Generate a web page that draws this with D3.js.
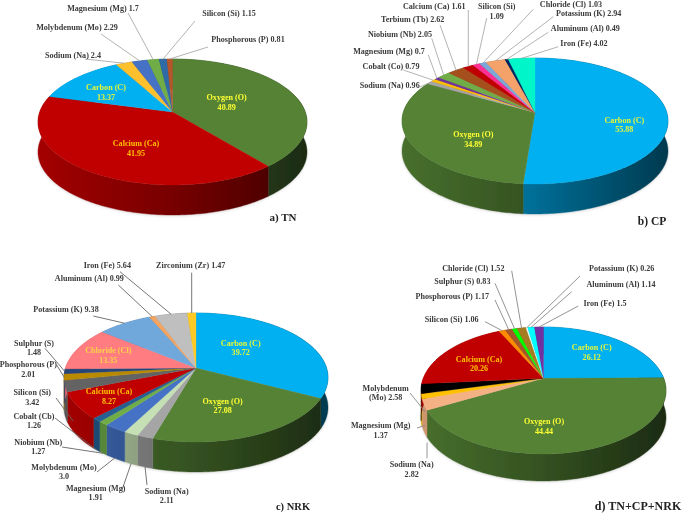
<!DOCTYPE html>
<html><head><meta charset="utf-8">
<script src="https://cdn.jsdelivr.net/npm/d3@7"></script>
<style>html,body{margin:0;padding:0;background:#fff;overflow:hidden}svg{display:block}
text{font-family:"Liberation Serif","Times New Roman",serif;font-weight:bold;font-size:8.1px;fill:#3a3a3a}</style>
</head><body><svg id="c" width="685" height="513"></svg>
<script>
// ---- data: values and label text ----
const tnValues  = [40.89,41.95,13.37,2.4,2.29,1.7,1.15,0.81];
const tnLabels  = [["Oxygen (O)","40.89"],["Calcium (Ca)","41.95"],["Carbon (C)","13.37"],["Sodium (Na) 2.4"],["Molybdenum (Mo) 2.29"],["Magnesium (Mg) 1.7"],["Silicon (Si) 1.15"],["Phosphorous (P)  0.81"]];
const tnColors  = ["#548235","#c00000","#00b0f0","#ffc02e","#4472c4","#70ad47","#2f6aa5","#b5562a"];

const cpValues  = [55.88,34.89,0.96,0.79,0.7,2.05,2.62,1.61,1.09,1.03,2.94,0.49,4.02];
const cpLabels  = [["Carbon (C)","55.88"],["Oxygen (O)","34.89"],["Sodium (Na) 0.96"],["Cobalt (Co) 0.79"],["Magnesium (Mg) 0.7"],["Niobium (Nb) 2.05"],["Terbium (Tb) 2.62"],["Calcium  (Ca) 1.61"],["Silicon (Si)","1.09"],["Chloride (Cl) 1.03"],["Potassium (K) 2.94"],["Aluminum (Al) 0.49"],["Iron (Fe) 4.02"]];
const cpColors  = ["#00b0f0","#548235","#a5a5a5","#ffc000","#7030a0","#70ad47","#a5501f","#c00000","#ff2f92","#7ba7d8","#f4a26b","#002060","#00f5c8"];

const nrkValues = [39.72,27.08,2.11,1.91,3.0,1.27,1.26,8.27,3.42,2.01,1.48,13.35,9.38,0.99,5.64,1.47];
const nrkLabels = [["Carbon (C)","39.72"],["Oxygen (O)","27.08"],["Sodium (Na)","2.11"],["Magnesium (Mg)","1.91"],["Molybdenum (Mo)","3.0"],["Niobium (Nb)","1.27"],["Cobalt (Cb)","1.26"],["Calcium (Ca)","8.27"],["Silicon (Si)","3.42"],["Phosphorous (P)","2.01"],["Sulphur (S)","1.48"],["Chloride (Cl)","13.35"],["Potassium (K) 9.38"],["Aluminum (Al) 0.99"],["Iron (Fe) 5.64"],["Zirconium (Zr) 1.47"]];
const nrkColors = ["#00b0f0","#548235","#a5a5a5","#c5e0b4","#4472c4","#70ad47","#255e91","#c00000","#636363","#b98a00","#264478","#ff7c80","#6fa8dc","#f4a460","#bfbfbf","#ffca28"];

const mixValues = [26.12,44.44,2.82,1.37,2.58,20.26,1.06,1.17,0.83,1.52,0.26,1.14,1.5];
const mixLabels = [["Carbon (C)","26.12"],["Oxygen (O)","44.44"],["Sodium (Na)","2.82"],["Magnesium (Mg)","1.37"],["Molybdenum","(Mo) 2.58"],["Calcium (Ca)","20.26"],["Silicon (Si) 1.06"],["Phosphorous (P) 1.17"],["Sulphur (S) 0.83"],["Chloride (Cl) 1.52"],["Potassium (K) 0.26"],["Aluminum (Al) 1.14"],["Iron (Fe) 1.5"]];
const mixColors = ["#00b0f0","#548235","#f4b183","#ffc000","#000000","#c00000","#ff8c00","#a5562a","#00ff00","#a57c20","#ffffff","#00ffff","#7030a0"];

// ---- layout: pie geometry and label placement (x,y of first text line; leader start; offset at the pie) ----
const tnGeom  = {cx:172.5,cy:122,rx:134.5,ry:63,apexY:112,depth:30};
const cpGeom  = {cx:535,cy:121,rx:133,ry:63,apexY:112.5,depth:30};
const nrkGeom = {cx:196,cy:377.5,rx:132,ry:64.5,apexY:368,depth:30};
const mixGeom = {cx:543.5,cy:390.5,rx:122.5,ry:63.5,apexY:378.3,depth:27};

const inside = (x,y,fill)=>({x,y,fill});
const out = (x,y,lx,ly,dx=0,dy=0)=>({x,y,lx,ly,dx,dy});
const tnPlace = [inside(226.7,97,"#ffff33"),inside(136,143,"#ffc000"),inside(106,87.3,"#e4f53a"),
  out(73,55,85,59),out(77,27,101,34),out(103,7.5,128,13),out(229,13,195,21),out(248,39,208,47)];
const cpPlace = [inside(624.3,119.7,"#e4f53a"),inside(473.3,134.3,"#ffff33"),
  out(389.7,84.7,420,87),out(391,66.3,403.3,70),out(389,50.7,428.3,55),out(400,34.3,431.7,38.3),out(412.7,19.3,440,25),
  out(434.3,5.7,468.3,10),out(496.7,6,486.7,18),out(571,3.7,533.3,9.3),out(588.7,12.7,553.3,16.7),out(585.3,27.7,548.3,32.3),out(584,43,558.3,46.7)];
const nrkPlace = [inside(240.7,342.7,"#e4f53a"),inside(222.7,400.7,"#ffff33"),
  out(166.7,490.7,147,485,0,30),out(95.7,487.7,122,490,0,30),out(64,466.7,97,472,0,29),out(38.3,441.7,62,447,0,30),out(34,415.7,55,418,0,30),
  inside(109,391.3,"#ffc000"),out(32.3,392.3,56,398,8,35),out(28.3,364,56.7,365),out(34,342.7,45,348.3),
  inside(108.3,350,"#ffd24a"),out(66,309.3,93.3,316),out(89.3,278.3,118.3,285),out(107.3,265,120,271.7),out(190.7,265,191.7,272.7)];
const mixPlace = [inside(591.7,347.3,"#e4f53a"),inside(544,421.3,"#ffff33"),
  out(411.7,464.3,427,458.3,3,38),out(380.7,425,417,428,3.5,29),out(385.7,387.7,410,393,4,23),
  inside(479,358.7,"#ffc000"),out(451.7,319,485,321.7),out(452.3,296.3,495,300),out(462.3,281,495,283.3),out(473.3,267.7,511.7,270.7),
  out(621.7,268,580,276),out(621,283.7,571.7,291.7),out(605,302.7,578.3,306)];

const captions = [["a)  TN",283,221,11],["b)  CP",652,225,11.5],["c) NRK",293,510,10.5],["d) TN+CP+NRK",638,510,12]];

// ---- drawing ----
const svg = d3.select("#c");
const defs = svg.append("defs");
defs.append("filter").attr("id","soft").attr("x","-5%").attr("y","-5%").attr("width","110%").attr("height","110%")
  .append("feGaussianBlur").attr("stdDeviation",0.45);
defs.append("filter").attr("id","shadow").attr("x","-10%").attr("y","-10%").attr("width","120%").attr("height","120%")
  .append("feGaussianBlur").attr("stdDeviation",1.6);
const root = svg.append("g").attr("filter","url(#soft)");
const line = d3.line();
let gid = 0;

function drawPie(values, labels, colors, g, place, leaderColor){
  const c = (g.apexY-g.cy)/g.ry;
  const k = g.rx*Math.sqrt(1-c*c);
  const rim = (t,r=1)=>{ const u=r*Math.sin(t), v=-r*Math.cos(t), w=1+c*v;
    return [g.cx+k*u/w, g.cy+(g.ry*v+g.apexY-g.cy)/w]; };
  const arcPts = (a,b)=>{ const n=Math.max(2,Math.ceil((b-a)/0.015));
    return d3.range(n+1).map(i=>rim(a+(b-a)*i/n)); };
  const arcs = d3.pie().sort(null).value(d=>d)(values);
  const layer = root.append("g");

  // soft ground shadow below the body
  layer.append("path").attr("d",line(arcPts(0,2*Math.PI).map(p=>[p[0],p[1]+g.depth+1])))
    .attr("fill","#000").attr("opacity",.15).attr("filter","url(#shadow)");

  arcs.forEach((a,i)=>{
    const id="w"+(gid++), base=d3.rgb(colors[i]);
    const shade=f=>d3.rgb(base.r*f,base.g*f,base.b*f).formatRgb();
    const gr=defs.append("linearGradient").attr("id",id).attr("gradientUnits","userSpaceOnUse")
      .attr("x1",g.cx-g.rx).attr("x2",g.cx+g.rx).attr("y1",0).attr("y2",0);
    [[0,.85],[.5,.62],[1,.33]].forEach(s=>gr.append("stop").attr("offset",s[0]).attr("stop-color",shade(s[1])));
    const top=arcPts(a.startAngle,a.endAngle);
    const bottom=top.map(p=>[p[0],p[1]+g.depth]).reverse();
    layer.append("path").attr("d",line(top.concat(bottom))+"Z").attr("fill",`url(#${id})`).attr("stroke",`url(#${id})`).attr("stroke-width",.4);
  });
  arcs.forEach((a,i)=>{
    const pts=[rim(0,0)].concat(arcPts(a.startAngle,a.endAngle));
    layer.append("path").attr("d",line(pts)+"Z").attr("fill",colors[i]).attr("stroke",colors[i]).attr("stroke-width",.3);
  });
  arcs.forEach((a,i)=>{
    const p=place[i];
    if(p.lx!==undefined){
      const e=rim((a.startAngle+a.endAngle)/2);
      layer.append("line").attr("x1",p.lx).attr("y1",p.ly).attr("x2",e[0]+p.dx).attr("y2",e[1]+p.dy)
        .attr("stroke",leaderColor).attr("stroke-width",.9);
    }
    labels[i].forEach((s,j)=>{
      layer.append("text").attr("x",p.x).attr("y",p.y+3+j*9.6).attr("text-anchor","middle")
        .style("fill",p.fill||"#3a3a3a").text(s);
    });
  });
}

drawPie(tnValues, tnLabels, tnColors, tnGeom, tnPlace, "#aaaaaa");
drawPie(cpValues, cpLabels, cpColors, cpGeom, cpPlace, "#aaaaaa");
drawPie(nrkValues, nrkLabels, nrkColors, nrkGeom, nrkPlace, "#666666");
drawPie(mixValues, mixLabels, mixColors, mixGeom, mixPlace, "#888888");

root.selectAll("text.cap").data(captions).enter().append("text").attr("class","cap")
  .attr("x",d=>d[1]).attr("y",d=>d[2]).attr("text-anchor","middle")
  .style("font-size",d=>d[3]+"px").style("fill","#222").text(d=>d[0]);
</script></body></html>
